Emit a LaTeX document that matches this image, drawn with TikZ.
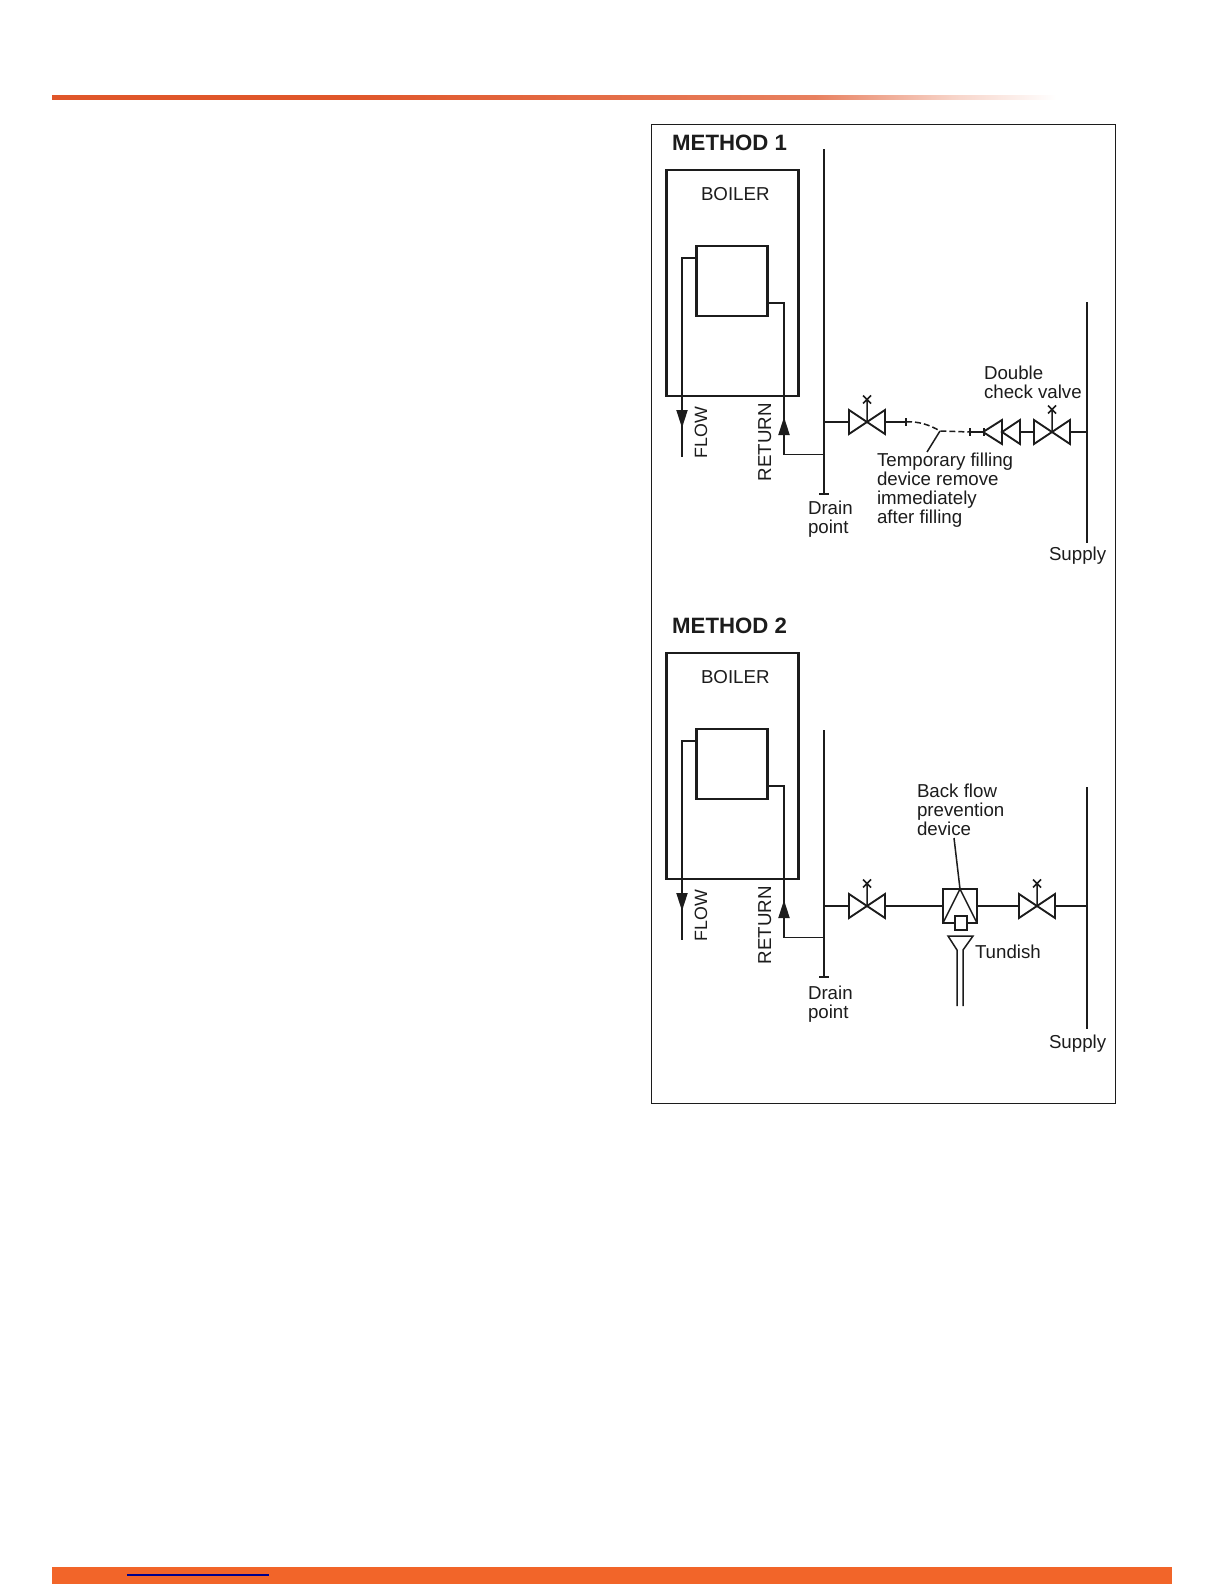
\documentclass[tikz,border=0pt]{standalone}
\usepackage{fontspec}
\setmainfont{Liberation Sans}
\usetikzlibrary{positioning,calc}
\usetikzlibrary{arrows.meta}
\definecolor{barorange}{HTML}{F26529}
\definecolor{ruleorange}{HTML}{E0562A}
\definecolor{ink}{HTML}{1C1C1C}
\pgfdeclarehorizontalshading{rulefade}{100bp}{color(0bp)=(ruleorange); color(40bp)=(ruleorange); color(63bp)=(ruleorange!75!white); color(70bp)=(ruleorange!25!white); color(75bp)=(white); color(100bp)=(white)}
\tikzset{line/.style={draw=ink, line width=1.9pt}}
\tikzset{thinline/.style={draw=ink, line width=1.5pt}}
\tikzset{flowtip/.style={-{Triangle[length=18pt,width=11pt]}}}
\tikzset{lbl/.style={inner sep=0pt, outer sep=0pt, align=left, text=ink, font=\fontsize{18.7}{19}\selectfont}}
\tikzset{heading/.style={inner sep=0pt, anchor=base west, text=ink, font=\fontsize{22.2}{24}\selectfont\bfseries}}
\tikzset{unit/.style={rectangle, draw=ink, line width=2.7pt, inner sep=0pt, outer sep=0pt}}
\tikzset{
  valve/.pic={
    \path [line] (-18,-12) -- (-18,12) -- (18,-12) -- (18,12) -- cycle;
    \path [thinline] (0,0) -- (0,-22.5) (-4,-26.5) -- (4,-18.5) (-4,-18.5) -- (4,-26.5);
    \coordinate (-left) at (-18,0);
    \coordinate (-right) at (18,0);
  },
  checkvalve/.pic={
    \path [line] (-19,0) -- (0,-12) -- (0,12) -- cycle;
    \path [line] (0,0) -- (18,-12) -- (18,12) -- cycle;
    \coordinate (-left) at (-19,0);
    \coordinate (-right) at (18,0);
  },
  heater/.pic={
    \node [unit, minimum width=132pt, minimum height=226pt] (-box) at (732.7,283) {};
    \node [unit, minimum width=71pt, minimum height=70pt] (-hx) at (732.2,281) {};
    \node [lbl, anchor=base west] (-name) at (701,200) {BOILER};
    \node [lbl, anchor=base west, rotate=90, font=\fontsize{17.8}{19}\selectfont] (-flow) at (707,458) {FLOW};
    \node [lbl, anchor=base west, rotate=90] (-return) at (771,481) {RETURN};
    \coordinate (-flowend) at (682,457);
    \coordinate (-flowtip) at (682,428);
    \coordinate (-returntip) at (784,417);
    \coordinate (-tee) at (824,454.5);
    \path [line] (-hx.west |- 0,258) -| (-flowend);
    \path [line, flowtip] (682,400) -- (-flowtip);
    \path [line] (-hx.east |- 0,303) -| (784,454.5) -- (-tee);
    \path [line, flowtip] (784,440) -- (-returntip);
  }
}

\begin{document}
\begin{tikzpicture}[x=1pt, y=-1pt]
\useasboundingbox (0,0) rectangle (1224,1584);
% page
    \fill [white] (0,0) rectangle (1224,1584);
    \shade [shading=rulefade] (52,96) rectangle (1056,99.5);
    \fill [barorange] (52,1567) rectangle (1172,1584);
    \draw [blue!55!black, line width=1.2pt] (127,1575) -- (269,1575);
    \draw [ink, line width=0.9pt] (651.5,124) rectangle (1115,1103);

% method 1
    \node [heading] (title1) at (672,150) {METHOD 1};
    \pic (a) at (0,0) {heater};
    \coordinate (maintopA) at (824,149);
    \coordinate (drainA) at (824,494);
    \coordinate (branchA) at (824,422);
    \coordinate (supplytopA) at (1087,302);
    \coordinate (supplyendA) at (1087,543);
    \coordinate (supplyteeA) at (1087,432);
    \pic (v1) at (867,422) {valve};
    \pic (c1) at (1002,432) {checkvalve};
    \pic (v2) at (1052,432) {valve};
    \coordinate (hoseA) at (906,422);
    \coordinate (hoseB) at (940,431);
    \coordinate (hoseC) at (970,432);
    \node [lbl, below right=7pt and -16pt of drainA] (drainlabelA) {Drain\\point};
    \node [lbl, anchor=north west] (doublecheck) at (984,365.6) {Double\\check valve};
    \node [lbl, anchor=north west] (temporary) at (877,452.5) {Temporary filling\\device remove\\immediately\\after filling};
    \node [lbl, below right=4pt and -38pt of supplyendA] (supplyA) {Supply};
% pipes
    \path [line, line width=2pt] (maintopA) -- (drainA);
    \path [line] ($(drainA)+(-5,0)$) -- ($(drainA)+(5,0)$);
    \path [line] (branchA) -- (v1-left);
    \path [line] (v1-right) -- (hoseA);
    \path [thinline] (906,418) -- (906,426);
    \path [thinline, dash pattern=on 6pt off 3pt] (hoseA) .. controls (918,421) and (930,425) .. (hoseB) -- (hoseC);
    \path [thinline] (970,428) -- (970,436);
    \path [thinline] (984,428) -- (984,436);
    \path [line] (hoseC) -- (c1-left);
    \path [line] (c1-right) -- (v2-left);
    \path [line] (v2-right) -- (supplyteeA);
    \path [line, line width=2pt] (supplytopA) -- (supplyendA);
    \path [thinline] (hoseB) -- (927,452);

% method 2
    \node [heading] (title2) at (672,633) {METHOD 2};
    \pic (b) at (0,483) {heater};
    \coordinate (maintopB) at (824,730);
    \coordinate (drainB) at (824,977);
    \coordinate (branchB) at (824,906);
    \coordinate (supplytopB) at (1087,787);
    \coordinate (supplyendB) at (1087,1029);
    \coordinate (supplyteeB) at (1087,906);
    \pic (v3) at (867,906) {valve};
    \pic (v4) at (1037,906) {valve};
    \node [unit, line width=2.2pt, minimum width=34pt, minimum height=34pt] (device) at (960,906) {};
    \node [unit, line width=1.7pt, fill=white, minimum width=12pt, minimum height=14pt] (airgap) at (961,923) {};
    \coordinate (devicelead) at (954,838);
    \coordinate (funnelL) at (948,936);
    \coordinate (funnelR) at (973,936);
    \node [lbl, below right=9pt and -16pt of drainB] (drainlabelB) {Drain\\point};
    \node [lbl, anchor=north west] (backflow) at (917,783.6) {Back flow\\prevention\\device};
    \node [lbl, anchor=base west] (tundish) at (975,958) {Tundish};
    \node [lbl, below right=6pt and -38pt of supplyendB] (supplyB) {Supply};
% pipes
    \path [line, line width=2pt] (maintopB) -- (drainB);
    \path [line] ($(drainB)+(-5,0)$) -- ($(drainB)+(5,0)$);
    \path [line] (branchB) -- (v3-left);
    \path [line] (v3-right) -- (device.west);
    \path [line] (device.east) -- (v4-left);
    \path [line] (v4-right) -- (supplyteeB);
    \path [line, line width=2pt] (supplytopB) -- (supplyendB);
    \path [thinline] (device.north) -- (device.south west);
    \path [thinline] (device.north) -- (device.south east);
    \path [thinline] (devicelead) -- (device.north);
    \path [thinline] (957,1006) -- (957,950) -- (funnelL) -- (funnelR) -- (963,950) -- (963,1006);
\end{tikzpicture}
\end{document}
